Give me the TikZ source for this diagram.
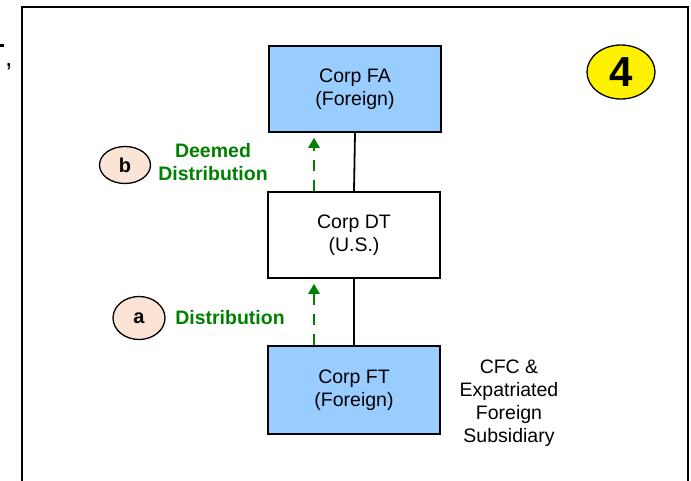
\documentclass[tikz,border=0pt]{standalone}
\usepackage{fontspec}
\setmainfont{Liberation Sans}
\usetikzlibrary{arrows.meta,shapes.geometric}
\definecolor{boxblue}{RGB}{153,204,255}
\definecolor{peach}{RGB}{251,228,213}
\definecolor{dgreen}{RGB}{0,128,0}
\tikzset{
  ent/.style={draw=black, line width=1.6pt, minimum width=172pt, minimum height=86pt, inner sep=0pt, align=center, font=\fontsize{19.5}{23.5}\selectfont},
  blue/.style={ent, fill=boxblue},
  tag/.style={ellipse, draw=black, line width=1.3pt, fill=peach, inner sep=0pt, font=\fontsize{20}{24}\selectfont\bfseries},
  glab/.style={text=dgreen, align=center, font=\fontsize{19.5}{23.5}\selectfont\bfseries},
  link/.style={line width=1.8pt},
  flow/.style={draw=dgreen, line width=2.8pt, dash pattern=on 11pt off 9pt, -{Triangle[length=10pt,width=11pt]}, shorten >=5pt},
}
\begin{document}
\begin{tikzpicture}[x=1pt,y=-1pt]
\useasboundingbox (0,0) rectangle (691,480);
% frame and cut-off fragment at the left edge
\draw[line width=2.6pt] (22,490) -- (22,7) -- (688,7) -- (688,490);
\fill (0,43.5) rectangle (4,46.5);
\node[anchor=base west, inner sep=0pt, font=\fontsize{27}{30}\selectfont] (frag) at (5,66) {,};
% entities
\node[blue] (fa) at (355,89) {Corp FA\\(Foreign)};
\node[ent]  (dt) at (354,235) {Corp DT\\(U.S.)};
\node[blue] (ft) at (354,390) [minimum height=88pt] {Corp FT\\(Foreign)};
% ownership lines
\draw[link] (fa.south) -- (dt.north);
\draw[link] (dt.south) -- (ft.north);
% distributions
\draw[flow] (dt.north -| 314,0) -- (fa.south -| 314,0);
\draw[flow] (ft.north -| 314,0) -- (dt.south -| 314,0);
% labels
\node[tag, minimum width=51pt, minimum height=37pt] (b) at (125,165) {b};
\node[glab] (bl) at (213,162) {Deemed\\Distribution};
\node[tag, minimum width=52pt, minimum height=43pt] (a) at (139,318) {a};
\node[glab] (al) at (230,318) {Distribution};
\node[align=center, font=\fontsize{19.5}{23}\selectfont] (cfc) at (509,403) {CFC \&\\Expatriated\\Foreign\\Subsidiary};
% step number
\node[ellipse, draw=black, line width=1.3pt, fill=yellow, minimum width=68pt, minimum height=54pt, inner sep=0pt, font=\fontsize{42}{46}\selectfont\bfseries] (n4) at (621,72) {4};
\end{tikzpicture}
\end{document}
